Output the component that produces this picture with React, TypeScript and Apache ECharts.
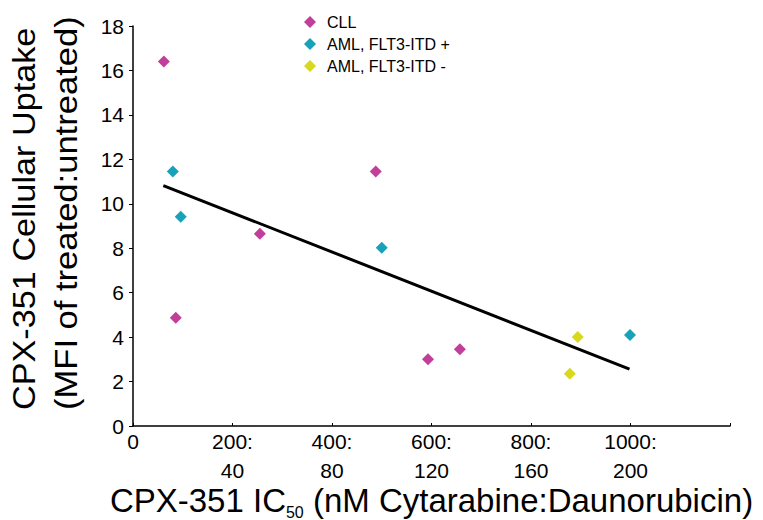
import React, { useEffect, useRef } from "react";
import * as echarts from "echarts";

const cllData: [number, number][] = [
  [62, 16.4], [86, 4.87], [255, 8.65], [488, 11.45], [593, 3.0], [657, 3.45],
];
const amlPosData: [number, number][] = [
  [80, 11.45], [96, 9.42], [500, 8.02], [999, 4.1],
];
const amlNegData: [number, number][] = [
  [894, 4.0], [878, 2.35],
];
const trendLine: [number, number][] = [
  [61, 10.82], [998, 2.56],
];
const xTickValues = [0, 200, 400, 600, 800, 1000];
const xTickLabels = ["0", "200:\n40", "400:\n80", "600:\n120", "800:\n160", "1000:\n200"];
const seriesNames = ["CLL", "AML, FLT3-ITD +", "AML, FLT3-ITD -"];
const seriesColors = ["#C13F9B", "#17A2B9", "#D8D81C"];

const FONT = "Liberation Sans, Arial, sans-serif";

export default function App() {
  const ref = useRef<HTMLDivElement>(null);
  useEffect(() => {
    if (!ref.current) return;
    const chart = echarts.init(ref.current, undefined, { renderer: "svg" });
    chart.setOption({
      animation: false,
      backgroundColor: "#ffffff",
      textStyle: { fontFamily: FONT },
      grid: {
        left: 133,
        right: 33,
        top: 26,
        bottom: 94,
        containLabel: false,
        outerBoundsMode: "none",
      },
      legend: {
        orient: "vertical",
        left: 299,
        top: 9,
        itemGap: 6,
        itemWidth: 12,
        itemHeight: 12,
        textStyle: { fontSize: 16, color: "#000", fontFamily: FONT, padding: [0, 0, 0, 6] },
        data: seriesNames.map((n) => ({ name: n, icon: "diamond" })),
      },
      xAxis: {
        type: "value",
        min: 0,
        max: 1200,
        interval: 200,
        axisLine: { show: true, onZero: false, lineStyle: { color: "#000", width: 1.5 } },
        axisTick: { show: true, inside: true, length: 3, lineStyle: { color: "#000" } },
        splitLine: { show: false },
        axisLabel: {
          color: "#000",
          fontSize: 21,
          lineHeight: 29,
          margin: 1,
          fontFamily: FONT,
          formatter: (v: number) => {
            const i = xTickValues.indexOf(v);
            return i >= 0 ? xTickLabels[i] : "";
          },
        },
        name: "{a|CPX-351 IC}{s|50}{a| (nM Cytarabine:Daunorubicin)}",
        nameLocation: "middle",
        nameGap: 54,
        nameMoveOverlap: false,
        nameTextStyle: {
          rich: {
            a: { fontSize: 33, color: "#000", fontFamily: FONT },
            s: { fontSize: 16, color: "#000", fontFamily: FONT, padding: [24, 0, 0, 0] },
          },
        },
      },
      yAxis: {
        type: "value",
        min: 0,
        max: 18,
        interval: 2,
        axisLine: { show: true, lineStyle: { color: "#000", width: 1.5 } },
        axisTick: { show: true, length: 4, lineStyle: { color: "#000" } },
        splitLine: { show: false },
        axisLabel: { color: "#000", fontSize: 21, margin: 9, fontFamily: FONT },
      },
      graphic: [
        {
          type: "text",
          x: 24,
          y: 410,
          rotation: Math.PI / 2,
          scaleX: 1.07,
          style: {
            text: "CPX-351 Cellular Uptake",
            fontSize: 32,
            fill: "#000",
            fontFamily: FONT,
            align: "left",
            verticalAlign: "middle",
          },
        },
        {
          type: "text",
          x: 66,
          y: 410,
          rotation: Math.PI / 2,
          scaleX: 1.08,
          style: {
            text: "(MFI of treated:untreated)",
            fontSize: 32,
            fill: "#000",
            fontFamily: FONT,
            align: "left",
            verticalAlign: "middle",
          },
        },
      ],
      series: [
        {
          name: "trend",
          type: "line",
          data: trendLine,
          symbol: "none",
          lineStyle: { color: "#000", width: 3 },
          z: 1,
          silent: true,
        },
        {
          name: seriesNames[0],
          type: "scatter",
          symbol: "diamond",
          symbolSize: 12,
          itemStyle: { color: seriesColors[0], opacity: 1 },
          data: cllData,
          z: 3,
        },
        {
          name: seriesNames[1],
          type: "scatter",
          symbol: "diamond",
          symbolSize: 12,
          itemStyle: { color: seriesColors[1], opacity: 1 },
          data: amlPosData,
          z: 3,
        },
        {
          name: seriesNames[2],
          type: "scatter",
          symbol: "diamond",
          symbolSize: 12,
          itemStyle: { color: seriesColors[2], opacity: 1 },
          data: amlNegData,
          z: 3,
        },
      ],
    });
    return () => chart.dispose();
  }, []);
  return <div ref={ref} style={{ width: 763, height: 520, position: "absolute", left: 0, top: 0 }} />;
}
